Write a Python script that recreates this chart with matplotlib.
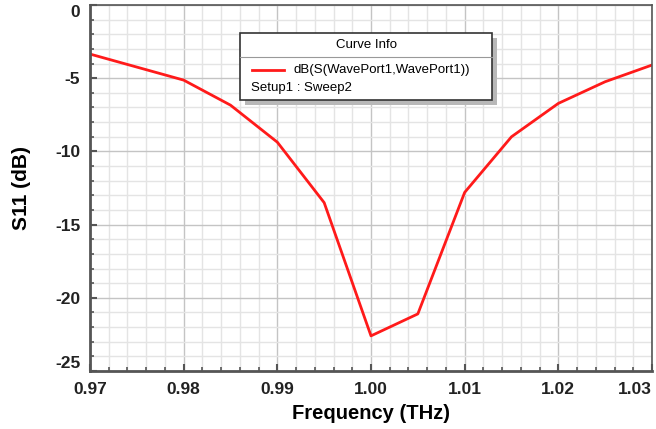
import matplotlib.pyplot as plt
from matplotlib.patches import Rectangle
from matplotlib.lines import Line2D
from matplotlib.ticker import MultipleLocator

freq = [0.970, 0.975, 0.980, 0.985, 0.990, 0.995, 1.000,
        1.005, 1.010, 1.015, 1.020, 1.025, 1.030]
s11 = [-3.35, -4.24, -5.13, -6.84, -9.37, -13.5, -22.6,
       -21.1, -12.8, -9.0, -6.72, -5.24, -4.1]
xticks = [0.97, 0.98, 0.99, 1.00, 1.01, 1.02, 1.03]
xticklabels = ['0.97', '0.98', '0.99', '1.00', '1.01', '1.02', '1.03']
yticks = [0, -5, -10, -15, -20, -25]

plt.rcParams['font.family'] = ['Liberation Sans', 'DejaVu Sans']
plt.rcParams['axes.unicode_minus'] = False

fig = plt.figure(figsize=(6.56, 4.29), dpi=100)
ax = fig.add_axes([0.1372, 0.1352, 0.8567, 0.8531])

ax.plot(freq, s11, color='#ff1a1a', lw=2)

ax.set_xlim(0.97, 1.03)
ax.set_ylim(-25, 0)
ax.set_xticks(xticks)
ax.set_xticklabels(xticklabels)
ax.set_yticks(yticks)
ax.xaxis.set_minor_locator(MultipleLocator(0.002))
ax.yaxis.set_minor_locator(MultipleLocator(1))
ax.grid(which='major', color='#c4c4c4', lw=1)
ax.grid(which='minor', color='#e4e4e4', lw=1)
ax.set_axisbelow(True)

ax.tick_params(which='both', direction='in', colors='#555555',
               labelcolor='#222222', top=False, right=False)
ax.tick_params(which='major', length=5, width=1.5, labelsize=12.5)
ax.tick_params(axis='x', which='major', pad=8)
ax.tick_params(axis='y', which='major', pad=7)
ax.tick_params(which='minor', length=3, width=1.2)
for lab in ax.get_xticklabels() + ax.get_yticklabels():
    lab.set_fontweight('bold')
ylabs = ax.get_yticklabels()
ylabs[0].set_va('top')
ylabs[-1].set_va('bottom')
ax.get_xticklabels()[-1].set_ha('right')

for side in ['left', 'bottom']:
    ax.spines[side].set_color('#555555')
    ax.spines[side].set_linewidth(2)
for side in ['top', 'right']:
    ax.spines[side].set_color('#555555')
    ax.spines[side].set_linewidth(1.2)

ax.set_xlabel('Frequency (THz)', fontsize=14.5, fontweight='bold', labelpad=5)
ax.set_ylabel('S11 (dB)', fontsize=15, fontweight='bold', labelpad=17)

# legend box ("Curve Info")
fx = lambda px: px / 656
fy = lambda py: 1 - py / 429
shadow = Rectangle((fx(245), fy(105)), fx(252) - fx(0), fy(33) - fy(100),
                   transform=fig.transFigure, facecolor='#b8b8b8',
                   edgecolor='none', zorder=5)
box = Rectangle((fx(240), fy(100)), fx(252) - fx(0), fy(33) - fy(100),
                transform=fig.transFigure, facecolor='white',
                edgecolor='#333333', lw=1.2, zorder=6)
fig.add_artist(shadow)
fig.add_artist(box)
fig.add_artist(Line2D([fx(240), fx(492)], [fy(57), fy(57)],
                      transform=fig.transFigure, color='#999999', lw=0.8,
                      zorder=7))
fig.text(fx(366), fy(45), 'Curve Info', ha='center', va='center',
         fontsize=9.5, zorder=8)
fig.add_artist(Line2D([fx(252), fx(284)], [fy(70), fy(70)],
                      transform=fig.transFigure, color='#ff1a1a', lw=2,
                      zorder=8))
fig.text(fx(293), fy(70), 'dB(S(WavePort1,WavePort1))', ha='left',
         va='center', fontsize=9.5, zorder=8)
fig.text(fx(251), fy(88), 'Setup1 : Sweep2', ha='left', va='center',
         fontsize=9.5, zorder=8)

fig.savefig('out.png', dpi=100)
